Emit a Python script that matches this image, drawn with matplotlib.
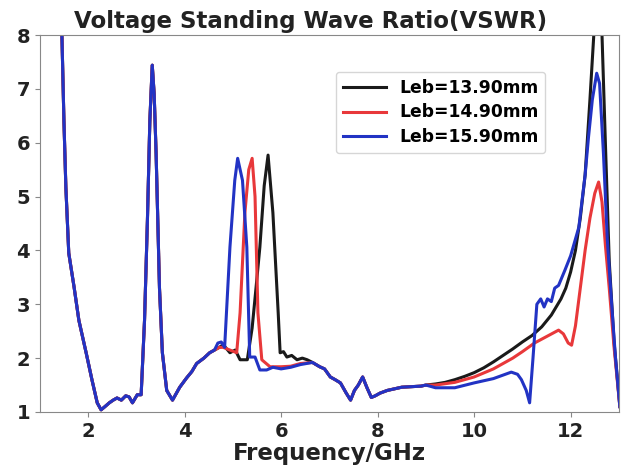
import numpy as np
import matplotlib.pyplot as plt

# tramo comun (baja frecuencia)
f_low = [1.45, 1.5, 1.54, 1.6, 1.71, 1.81, 1.96, 2.08, 2.19, 2.27, 2.35, 2.44, 2.52, 2.6, 2.69,
         2.78, 2.85, 2.92, 3.02, 3.1, 3.17, 3.23, 3.28, 3.33, 3.37, 3.41, 3.48, 3.54, 3.63,
         3.75, 3.9, 4.04, 4.15, 4.25, 4.4, 4.52, 4.62]
v_low = [8.3, 6.4, 5.17, 3.95, 3.32, 2.7, 2.1, 1.6, 1.17, 1.04, 1.1, 1.17, 1.22, 1.26, 1.22,
         1.3, 1.28, 1.17, 1.32, 1.32, 2.7, 4.56, 6.4, 7.44, 6.9, 5.8, 3.3, 2.1, 1.4,
         1.22, 1.46, 1.63, 1.75, 1.9, 2.0, 2.1, 2.15]

# tramo comun (frecuencia media)
f_mid = [6.65, 6.8, 6.9, 7.02, 7.12, 7.23, 7.35, 7.44, 7.52, 7.6, 7.69, 7.78, 7.87, 7.95,
         8.05, 8.2, 8.35, 8.5, 8.7, 8.9, 9.0]
v_mid = [1.92, 1.84, 1.8, 1.65, 1.6, 1.54, 1.35, 1.22, 1.4, 1.5, 1.65, 1.45, 1.27, 1.3,
         1.35, 1.4, 1.43, 1.46, 1.47, 1.48, 1.5]

# Leb = 13.90 mm
f_a1 = [4.72, 4.8, 4.94, 5.05, 5.15, 5.3, 5.4, 5.48, 5.56, 5.65, 5.73, 5.83, 5.94, 5.98,
        6.05, 6.12, 6.22, 6.33, 6.44, 6.54]
v_a1 = [2.2, 2.25, 2.1, 2.15, 1.97, 1.97, 2.56, 3.3, 4.06, 5.2, 5.77, 4.7, 2.84, 2.1,
        2.12, 2.02, 2.05, 1.97, 2.0, 1.97]
f_a2 = [9.2, 9.4, 9.6, 9.8, 10.0, 10.2, 10.4, 10.6, 10.8, 11.0, 11.2, 11.4, 11.6, 11.8,
        11.9, 12.0, 12.1, 12.2, 12.3, 12.4, 12.48, 12.56, 12.65, 12.72, 12.8, 12.9, 13.02]
v_a2 = [1.52, 1.55, 1.6, 1.66, 1.73, 1.82, 1.93, 2.05, 2.17, 2.3, 2.42, 2.58, 2.8, 3.1,
        3.3, 3.6, 4.0, 4.6, 5.4, 6.8, 8.0, 8.5, 8.0, 6.0, 3.8, 2.3, 1.1]

# Leb = 14.90 mm
f_b1 = [4.72, 4.8, 4.94, 5.08, 5.15, 5.25, 5.33, 5.4, 5.46, 5.52, 5.6, 5.77, 6.0, 6.2, 6.4]
v_b1 = [2.2, 2.2, 2.15, 2.1, 2.84, 4.7, 5.5, 5.71, 5.0, 2.84, 1.97, 1.84, 1.84, 1.85, 1.9]
f_b2 = [9.2, 9.6, 10.0, 10.4, 10.8, 11.0, 11.25, 11.5, 11.75, 11.85, 11.95, 12.02, 12.1,
        12.2, 12.3, 12.4, 12.5, 12.58, 12.65, 12.72, 12.8, 12.9, 13.02]
v_b2 = [1.5, 1.55, 1.65, 1.8, 2.0, 2.12, 2.28, 2.4, 2.52, 2.45, 2.28, 2.24, 2.6,
        3.3, 4.0, 4.6, 5.06, 5.27, 4.9, 4.1, 3.3, 2.2, 1.1]

# Leb = 15.90 mm
f_c1 = [4.69, 4.76, 4.83, 4.94, 5.04, 5.1, 5.2, 5.29, 5.35, 5.46, 5.56, 5.7, 5.83, 6.0,
        6.2, 6.4]
v_c1 = [2.28, 2.3, 2.2, 4.06, 5.3, 5.71, 5.3, 4.06, 2.02, 2.02, 1.78, 1.78, 1.83, 1.8,
        1.83, 1.88]
f_c2 = [9.2, 9.6, 10.0, 10.4, 10.77, 10.9, 10.98, 11.08, 11.15, 11.22, 11.3, 11.38, 11.45,
        11.52, 11.6, 11.67, 11.75, 11.88, 12.0, 12.17, 12.3, 12.37, 12.45, 12.54, 12.6,
        12.68, 12.76, 12.85, 12.93, 13.02]
v_c2 = [1.45, 1.45, 1.54, 1.62, 1.74, 1.7, 1.6, 1.4, 1.17, 2.0, 3.0, 3.1, 2.95,
        3.1, 3.05, 3.3, 3.35, 3.63, 3.9, 4.43, 5.4, 6.1, 6.8, 7.29, 7.1,
        5.8, 4.2, 3.0, 2.0, 1.1]

labels = ["Leb=13.90mm", "Leb=14.90mm", "Leb=15.90mm"]
colors = ["#1a1a1a", "#e8383a", "#2233c4"]

series = [
    (f_low + f_a1 + f_mid + f_a2, v_low + v_a1 + v_mid + v_a2),
    (f_low + f_b1 + f_mid + f_b2, v_low + v_b1 + v_mid + v_b2),
    (f_low + f_c1 + f_mid + f_c2, v_low + v_c1 + v_mid + v_c2),
]

fig = plt.figure(figsize=(6.22, 4.73), dpi=100)
ax = fig.add_axes([0.064, 0.129, 0.931, 0.797])

for (f, v), lab, c in zip(series, labels, colors):
    ax.plot(f, v, color=c, lw=2.2, label=lab)

ax.set_xlim(1, 13)
ax.set_ylim(1, 8)
ax.set_xticks([2, 4, 6, 8, 10, 12])
ax.set_yticks([1, 2, 3, 4, 5, 6, 7, 8])
ax.tick_params(labelsize=14, color="#888888")
for lbl in ax.get_xticklabels() + ax.get_yticklabels():
    lbl.set_fontweight("bold")
    lbl.set_color("#222222")
for s in ax.spines.values():
    s.set_color("#888888")

# titulo centrado en la figura
fig.text(0.5, 0.941, "Voltage Standing Wave Ratio(VSWR)", ha="center", va="baseline",
         fontsize=16.5, fontweight="bold", color="#222222")
ax.set_xlabel("Frequency/GHz", fontsize=16.5, fontweight="bold", labelpad=1, color="#222222")

leg = ax.legend(loc="upper right", bbox_to_anchor=(0.888, 0.925), handlelength=2.5,
                labelspacing=0.4, prop={"weight": "bold", "size": 12.3})

plt.savefig("out.png", dpi=100)
